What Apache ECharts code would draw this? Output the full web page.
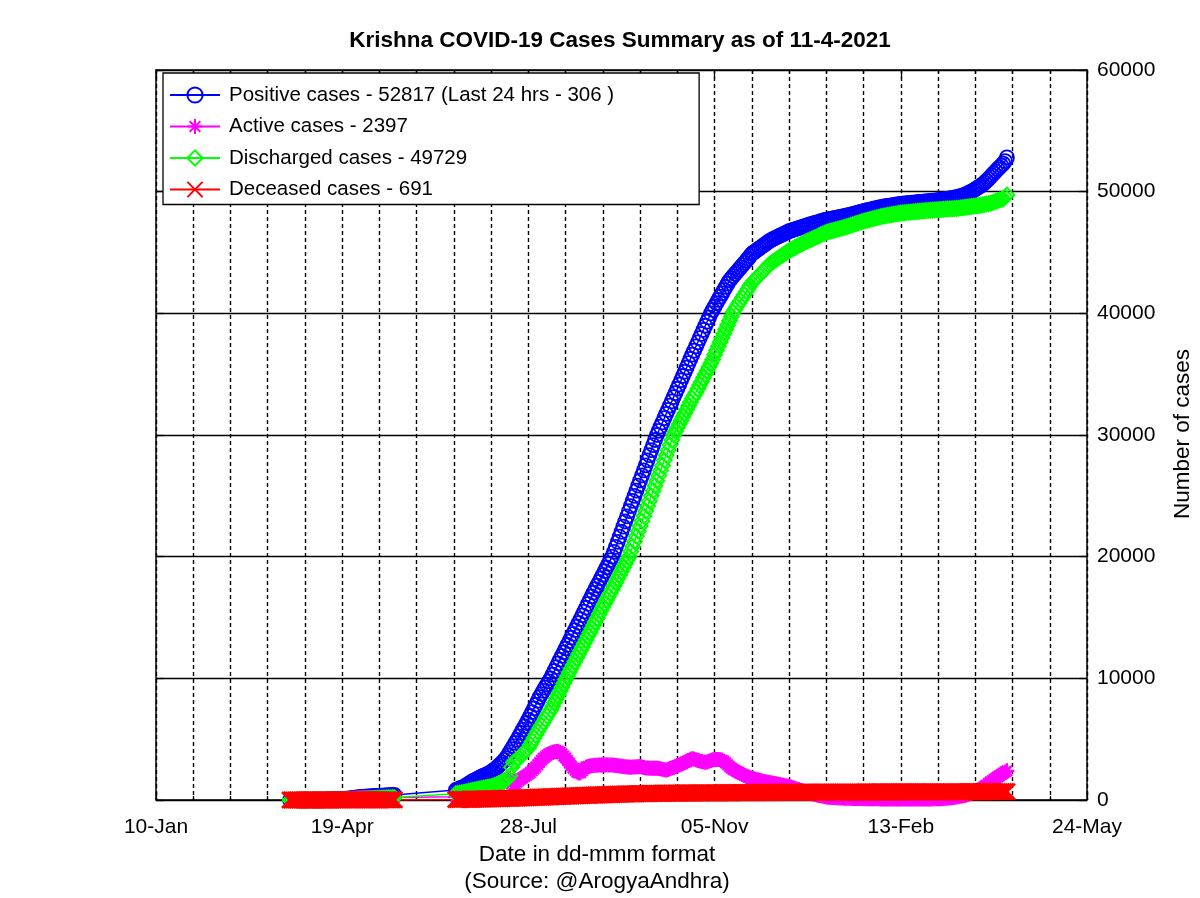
<!DOCTYPE html>
<html><head><meta charset="utf-8">
<script src="https://cdn.jsdelivr.net/npm/echarts/dist/echarts.min.js"></script>
<style>html,body{margin:0;padding:0;background:#fff}#c{width:1200px;height:898px}</style>
</head><body><div id="c"></div>
<script>
const FONT = '"Liberation Sans", Arial, Helvetica, sans-serif';
const titleText = 'Krishna COVID-19 Cases Summary as of 11-4-2021';
const xNameLines = ['Date in dd-mmm format', '(Source: @ArogyaAndhra)'];
const yName = 'Number of cases';
const axisStart = '2020-01-10';
const xTickLabels = ['10-Jan', '19-Apr', '28-Jul', '05-Nov', '13-Feb', '24-May'];
const xTickStepDays = 100;
const yMax = 60000, yStep = 10000;
const seriesNames = ['Positive cases - 52817 (Last 24 hrs - 306 )', 'Active cases - 2397', 'Discharged cases - 49729', 'Deceased cases - 691'];
const seriesColors = ['#0000ff', '#ff00ff', '#00ff00', '#ff0000'];

// segment 1: daily from 22-Mar-2020
const seg1Start = '2020-03-22';
const positive1 = [1,1,2,2,3,5,6,8,8,10, 12,15,20,24,27,29,32,34,35,36, 40,44,48,56,64,70,75,82,88,95, 105,120,140,160,182,200,215,230,245,258, 270,282,290,300,312,320,330,338,345,352, 360,370,380,390,400,410,420];
const active1 = [1,1,2,2,3,5,6,8,8,10, 12,15,20,23,26,28,31,32,33,33, 36,39,42,47,51,54,57,60,62,67, 75,86,103,119,137,151,160,169,177,184, 188,191,189,189,190,188,188,185,182,181, 182,184,186,190,194,197,201];
const discharged1 = [0,0,0,0,0,0,0,0,0,0, 0,0,0,0,0,0,0,1,1,2, 2,3,3,5,8,10,12,15,18,20, 22,25,28,32,36,40,46,52,58,64, 72,80,90,100,110,120,130,140,150,158, 165,172,180,186,192,198,204];
const deceased1 = [0,0,0,0,0,0,0,0,0,0, 0,0,0,1,1,1,1,1,1,1, 2,2,3,4,5,6,6,7,8,8, 8,9,9,9,9,9,9,9,10,10, 10,11,11,11,12,12,12,13,13,13, 13,14,14,14,14,15,15];

// segment 2: daily from 19-Jun-2020 to 11-Apr-2021
const seg2Start = '2020-06-19';
const positive2 = [
820,880,950,1010,1060,1150,1250,1340,1450,1550,
1620,1700,1780,1850,1930,2000,2070,2140,2220,2300,
2420,2540,2660,2800,2950,3100,3270,3450,3680,3930,
4180,4430,4690,4950,5230,5510,5790,6060,6330,6600,
6910,7220,7530,7830,8140,8450,8710,8970,9230,9490,
9750,10000,10300,10610,10920,11230,11540,11840,12140,12450,
12750,13050,13350,13650,13960,14260,14560,14870,15180,15490,
15800,16120,16440,16740,17040,17330,17620,17920,18220,18510,
18810,19110,19410,19710,20000,20400,20810,21220,21640,22050,
22470,22890,23310,23740,24160,24580,25000,25420,25840,26260,
26680,27090,27510,27920,28340,28760,29170,29590,30000,30340,
30690,31030,31380,31730,32070,32420,32760,33110,33450,33800,
34150,34500,34850,35200,35550,35900,36250,36600,36940,37280,
37620,37960,38300,38640,38980,39320,39660,40000,40280,40560,
40830,41100,41370,41640,41910,42170,42440,42700,42880,43060,
43240,43420,43600,43780,43960,44140,44320,44500,44700,44900,
45010,45120,45230,45340,45450,45560,45670,45780,45890,46000,
46080,46150,46230,46300,46380,46450,46530,46600,46680,46750,
46800,46850,46900,46950,47000,47050,47100,47150,47200,47250,
47300,47340,47390,47430,47480,47520,47570,47610,47660,47700,
47730,47760,47790,47820,47850,47880,47910,47940,47970,48000,
48040,48080,48120,48160,48200,48240,48280,48320,48360,48400,
48440,48480,48510,48550,48580,48620,48650,48690,48720,48750,
48780,48800,48830,48850,48880,48900,48930,48950,48980,49000,
49015,49030,49045,49060,49075,49090,49105,49120,49135,49150,
49165,49180,49195,49210,49225,49240,49255,49270,49285,49300,
49320,49340,49365,49390,49415,49440,49465,49490,49520,49550,
49590,49630,49680,49730,49800,49870,49940,50020,50110,50200,
50300,50400,50500,50600,50740,50880,51030,51200,51360,51520,
51680,51850,52000,52150,52300,52511,52817];
const active2 = [
260,298,346,374,392,450,517,564,631,688,
725,772,818,854,900,936,972,1008,1059,1110,
1166,1222,1268,1334,1410,1476,1572,1678,1764,1790,
1335,1180,1335,1490,1615,1720,1824,1928,2032,2136,
2250,2400,2560,2720,2900,3080,3260,3420,3560,3680,
3780,3860,3920,3960,3990,4000,3930,3800,3620,3450,
3250,3030,2820,2620,2450,2300,2220,2250,2400,2580,
2700,2760,2790,2810,2830,2850,2860,2870,2870,2880,
2880,2890,2880,2880,2880,2860,2840,2820,2800,2780,
2760,2740,2720,2710,2700,2710,2720,2730,2740,2750,
2720,2680,2640,2620,2610,2600,2600,2600,2600,2590,
2560,2520,2490,2470,2500,2560,2630,2700,2760,2820,
2880,2950,3020,3080,3150,3250,3340,3400,3380,3300,
3240,3200,3160,3120,3100,3130,3180,3240,3300,3320,
3330,3320,3300,3260,3180,3050,2900,2750,2620,2500,
2420,2340,2260,2180,2100,2030,1960,1890,1830,1780,
1740,1700,1660,1620,1580,1540,1500,1470,1440,1410,
1390,1360,1330,1300,1270,1240,1210,1180,1150,1110,
1060,1010,960,910,860,810,760,710,660,610,
570,530,490,450,410,370,340,310,280,250,
235,220,210,200,190,180,172,165,158,150,
145,140,136,132,128,124,120,117,114,111,
108,106,104,102,100,98,96,94,92,90,
89,88,87,86,85,84,83,82,81,80,
80,79,79,78,78,77,77,76,76,75,
76,77,79,81,83,86,89,93,97,102,
110,118,127,137,150,165,180,197,218,240,
270,300,330,365,400,450,510,570,630,700,
770,840,920,1000,1120,1240,1360,1480,1580,1680,
1790,1900,2000,2100,2200,2300,2397];
const discharged2 = [
520,540,560,590,620,650,680,720,760,800,
830,860,890,920,950,980,1010,1040,1065,1090,
1150,1210,1280,1350,1420,1500,1570,1640,1780,2000,
2700,3100,3200,3300,3450,3620,3790,3950,4110,4270,
4540,4810,5090,5360,5630,5900,6150,6400,6650,6900,
7150,7400,7710,8020,8330,8640,8950,9270,9590,9900,
10200,10500,10800,11090,11390,11690,11990,12280,12580,12880,
13180,13480,13770,14070,14370,14670,14960,15260,15560,15850,
16150,16440,16730,17020,17300,17600,17900,18200,18500,18800,
19100,19400,19700,20000,20420,20840,21250,21670,22090,22500,
22920,23340,23750,24170,24580,25000,25420,25830,26250,26670,
27080,27500,27920,28330,28750,29170,29580,30000,30300,30600,
30900,31200,31500,31800,32100,32400,32700,33000,33250,33500,
33800,34100,34400,34700,35000,35300,35600,35900,36200,36600,
36950,37300,37650,38000,38350,38700,39050,39400,39750,40100,
40340,40580,40820,41060,41300,41540,41780,42020,42260,42500,
42660,42820,42980,43140,43300,43460,43620,43780,43940,44100,
44200,44310,44410,44520,44620,44730,44840,44940,45050,45150,
45230,45310,45400,45480,45560,45640,45720,45800,45880,45950,
46020,46090,46160,46230,46300,46380,46450,46520,46590,46660,
46700,46740,46780,46820,46870,46910,46950,46990,47030,47075,
47125,47175,47225,47275,47325,47375,47420,47470,47520,47570,
47610,47650,47690,47730,47770,47815,47855,47895,47935,47975,
48000,48025,48055,48080,48110,48135,48160,48190,48215,48240,
48255,48270,48285,48300,48315,48330,48345,48360,48380,48395,
48408,48420,48433,48445,48458,48470,48483,48495,48508,48520,
48530,48540,48550,48560,48570,48580,48590,48600,48612,48625,
48645,48665,48685,48705,48723,48743,48763,48783,48800,48820,
48845,48870,48895,48918,48948,48978,49006,49035,49090,49150,
49210,49263,49313,49363,49411,49570,49729];
const deceased2 = [
40,42,44,46,48,50,53,56,59,62,
65,68,72,76,80,84,88,92,96,100,
104,108,112,116,120,124,128,132,136,140,
145,150,155,160,165,170,176,182,188,194,
200,206,212,218,224,230,236,242,248,254,
260,266,272,278,284,290,296,302,308,314,
320,326,332,338,344,350,356,362,368,374,
380,386,392,398,404,410,415,420,425,430,
435,440,445,450,455,460,465,470,475,480,
485,490,494,498,502,506,510,514,518,522,
524,527,530,533,536,539,542,544,546,548,
550,552,554,556,558,560,562,564,566,568,
570,571,572,573,574,575,576,577,578,579,
580,581,582,583,584,585,586,587,588,589,
590,591,592,593,594,595,596,597,598,599,
600,601,602,603,604,605,606,607,608,609,
610,611,612,613,614,615,616,617,618,619,
620,621,621,622,623,624,625,626,627,628,
629,630,631,631,632,633,634,635,635,636,
637,638,638,639,640,640,641,642,642,643,
644,644,645,645,646,646,647,647,648,648,
649,649,650,650,651,651,652,652,653,653,
654,654,655,655,656,656,657,657,658,658,
659,659,660,660,660,661,661,661,662,662,
662,663,663,663,664,664,664,665,665,665,
666,666,666,667,667,667,668,668,668,669,
669,669,670,670,670,671,671,671,672,672,
673,673,674,674,675,675,676,676,677,677,
678,679,679,680,681,682,683,684,685,686,
686,687,688,689,689,690,691];

function dayIndex(s) {
  const p = s.split('-').map(Number), q = axisStart.split('-').map(Number);
  return Math.round((Date.UTC(p[0], p[1]-1, p[2]) - Date.UTC(q[0], q[1]-1, q[2])) / 86400000);
}
const d1 = dayIndex(seg1Start), d2 = dayIndex(seg2Start);
function build(v1, v2) {
  const out = [];
  v1.forEach((v, i) => out.push([d1 + i, v]));
  v2.forEach((v, i) => out.push([d2 + i, v]));
  return out;
}
const symbols = [
  'circle',
  'path://M5,0L5,10M0,5L10,5M1.5,1.5L8.5,8.5M8.5,1.5L1.5,8.5',
  'diamond',
  'path://M0,0L10,10M10,0L0,10'
];
const symbolSizes = [14, 15, 15, 16];
const borderWidths = [1.8, 2.2, 1.8, 2.6];
const values = [[positive1, positive2], [active1, active2], [discharged1, discharged2], [deceased1, deceased2]];

const series = values.map((v, k) => ({
  type: 'line', name: seriesNames[k], data: build(v[0], v[1]),
  xAxisIndex: 0, yAxisIndex: 0,
  symbol: symbols[k], symbolSize: symbolSizes[k], showAllSymbol: true, clip: false,
  lineStyle: { color: seriesColors[k], width: 1.5 },
  itemStyle: { color: 'rgba(0,0,0,0)', borderColor: seriesColors[k], borderWidth: borderWidths[k] },
  emphasis: { disabled: true }, animation: false
}));

const black = '#000';
const dashed = { color: black, width: 1.4, type: [4, 3] };
const chart = echarts.init(document.getElementById('c'));
chart.setOption({
  animation: false,
  backgroundColor: '#fff',
  grid: { left: 156, right: 113, top: 70, bottom: 98, containLabel: false, outerBoundsMode: 'none' },
  legend: {
    orient: 'vertical', left: 163, top: 73,
    padding: [11, 85, 4, 6], itemGap: 9.5, itemWidth: 50, itemHeight: 19,
    backgroundColor: '#fff', borderColor: black, borderWidth: 1.3, borderRadius: 0,
    textStyle: { fontSize: 20.5, fontFamily: FONT, color: black, lineHeight: 22, padding: [0, 0, 0, 4] },
    data: seriesNames, selectedMode: false
  },
  xAxis: [{
    type: 'value', min: 0, max: xTickStepDays * (xTickLabels.length - 1), interval: xTickStepDays, position: 'bottom',
    axisLine: { show: true, onZero: false, lineStyle: { color: black, width: 1.5 } },
    axisTick: { show: true, inside: true, length: 8, lineStyle: { color: black, width: 1.3 } },
    minorTick: { show: true, splitNumber: 5, length: 4, lineStyle: { color: black, width: 1.3 } },
    splitLine: { show: true, lineStyle: dashed },
    minorSplitLine: { show: true, lineStyle: dashed },
    axisLabel: { formatter: v => xTickLabels[Math.round(v / xTickStepDays)], margin: 17, fontSize: 21, fontFamily: FONT, color: black }
  }, {
    type: 'value', min: 0, max: xTickStepDays * (xTickLabels.length - 1), interval: xTickStepDays, position: 'top',
    axisLine: { show: true, onZero: false, lineStyle: { color: black, width: 1.5 } },
    axisTick: { show: true, inside: true, length: 8, lineStyle: { color: black, width: 1.3 } },
    minorTick: { show: true, splitNumber: 5, length: 4, lineStyle: { color: black, width: 1.3 } },
    splitLine: { show: false }, axisLabel: { show: false }
  }],
  yAxis: [{
    type: 'value', min: 0, max: yMax, interval: yStep, position: 'right',
    axisLine: { show: true, onZero: false, lineStyle: { color: black, width: 1.5 } },
    axisTick: { show: true, inside: true, length: 8, lineStyle: { color: black, width: 1.3 } },
    splitLine: { show: true, lineStyle: { color: black, width: 1.4 } },
    axisLabel: { formatter: v => String(v), margin: 10, fontSize: 21, fontFamily: FONT, color: black, align: 'left' }
  }, {
    type: 'value', min: 0, max: yMax, interval: yStep, position: 'left',
    axisLine: { show: true, onZero: false, lineStyle: { color: black, width: 1.5 } },
    axisTick: { show: true, inside: true, length: 8, lineStyle: { color: black, width: 1.3 } },
    splitLine: { show: false }, axisLabel: { show: false }
  }],
  graphic: [
    { type: 'text', x: 620, y: 41, style: { text: titleText, fontSize: 22.5, fontWeight: 'bold', fontFamily: FONT, fill: black, align: 'center', verticalAlign: 'middle' } },
    { type: 'text', x: 597, y: 855, style: { text: xNameLines[0], fontSize: 22.5, fontFamily: FONT, fill: black, align: 'center', verticalAlign: 'middle' } },
    { type: 'text', x: 597, y: 882, style: { text: xNameLines[1], fontSize: 22.5, fontFamily: FONT, fill: black, align: 'center', verticalAlign: 'middle' } },
    { type: 'text', x: 1183, y: 434, rotation: Math.PI / 2, style: { text: yName, fontSize: 22.5, fontFamily: FONT, fill: black, align: 'center', verticalAlign: 'middle' } }
  ],
  series: series
});
</script></body></html>
